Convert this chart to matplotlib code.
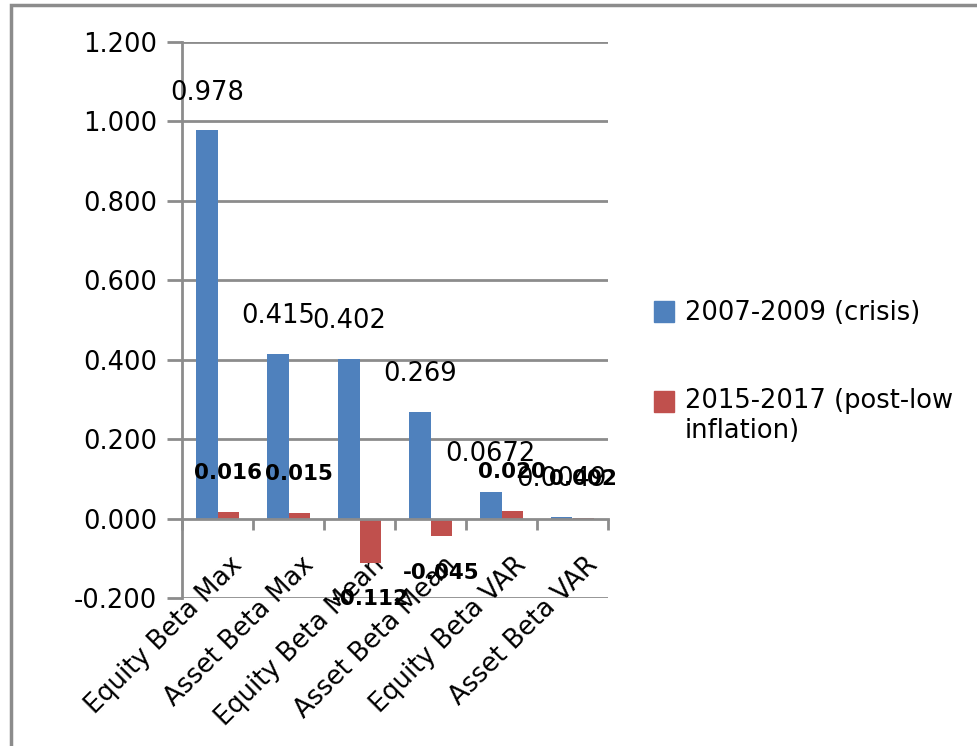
import numpy as np
import matplotlib
matplotlib.use('Agg')
import matplotlib.pyplot as plt
from matplotlib.patches import Rectangle
from matplotlib.transforms import ScaledTranslation

plt.rcParams['font.family'] = ['DejaVu Sans']
plt.rcParams['axes.unicode_minus'] = False

#categories and the two periods
categories = ['Equity Beta Max', 'Asset Beta Max', 'Equity Beta Mean',
              'Asset Beta Mean', 'Equity Beta VAR', 'Asset Beta VAR']
crisis = [0.978, 0.415, 0.402, 0.269, 0.0672, 0.0049]
post_low = [0.016, 0.015, -0.112, -0.045, 0.020, 0.002]
series_names = ['2007-2009 (crisis)', '2015-2017 (post-low\ninflation)']
yticks = [-0.2, 0.0, 0.2, 0.4, 0.6, 0.8, 1.0, 1.2]

blue = '#4F81BD'
red = '#C0504D'
grey = '#8C8C8C'
fs = 18.5
fs_bold = 15.5

fig = plt.figure(figsize=(9.77, 7.46), dpi=100)
ax = fig.add_axes([182/977, 1-598/746, (608-182)/977, (598-42)/746])

x = np.arange(len(categories))
w = 0.3
ax.bar(x - w/2, crisis, w, color=blue, zorder=3)
ax.bar(x + w/2, post_low, w, color=red, zorder=3)

#data labels, blue plain and red bold
for xi, v in zip(x - w/2, crisis):
    ax.annotate('%g' % v, (xi, v), xytext=(0, 27 if v >= 0 else -27),
                textcoords='offset points', ha='center', va='center',
                fontsize=fs, zorder=5)
for xi, v in zip(x + w/2, post_low):
    ax.annotate('%.3f' % v, (xi, v), xytext=(0, 28 if v >= 0 else -26),
                textcoords='offset points', ha='center', va='center',
                fontsize=fs_bold, fontweight='bold', zorder=5)

ax.set_xlim(-0.5, len(categories) - 0.5)
ax.set_ylim(-0.2, 1.2)

#gridlines
for t in yticks:
    if t != 0:
        ax.axhline(t, color=grey, lw=2, zorder=1)

ax.set_yticks(yticks)
ax.set_yticklabels(['%.3f' % t for t in yticks], fontsize=fs)
ax.tick_params(axis='y', length=11, width=2, color=grey, pad=7)

ax.spines['bottom'].set_position(('data', 0))
ax.spines['bottom'].set_color(grey)
ax.spines['bottom'].set_linewidth(2)
ax.spines['bottom'].set_zorder(4)
ax.spines['left'].set_color(grey)
ax.spines['left'].set_linewidth(2)
ax.spines['top'].set_visible(False)
ax.spines['right'].set_visible(False)

ax.set_xticks(np.arange(len(categories) + 1) - 0.5)
ax.set_xticklabels([])
ax.tick_params(axis='x', which='major', length=8, width=2, color=grey, direction='out')
ax.set_xticks(x, minor=True)
ax.set_xticklabels(categories, minor=True, rotation=45, ha='right',
                   rotation_mode='anchor', fontsize=fs)
ax.tick_params(axis='x', which='minor', length=0, pad=24)
shift = ScaledTranslation(12/100, 0, fig.dpi_scale_trans)
for lab in ax.get_xticklabels(minor=True):
    lab.set_transform(lab.get_transform() + shift)

#legend drawn by hand
fig.patches.append(Rectangle((654/977, 1-322/746), 20/977, 21/746,
                             transform=fig.transFigure, color=blue))
fig.text(685/977, 1-313/746, series_names[0], fontsize=fs, va='center')
fig.patches.append(Rectangle((654/977, 1-412/746), 20/977, 21/746,
                             transform=fig.transFigure, color=red))
fig.text(685/977, 1-388/746, series_names[1], fontsize=fs, va='top',
         linespacing=1.2)

#outer chart border
fig.patches.append(Rectangle((11/977, -0.1), 2, 1.1 - 5/746,
                             transform=fig.transFigure, fill=False,
                             ec=grey, lw=2.5))

plt.savefig('out.png', dpi=100)
